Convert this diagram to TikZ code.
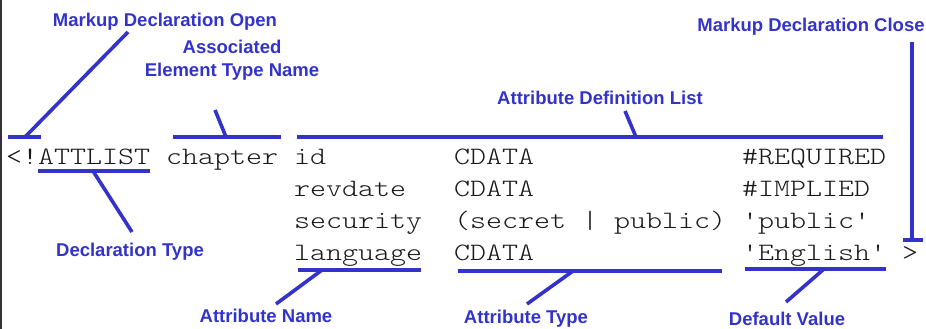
\documentclass[tikz,border=0pt]{standalone}
\usepackage{fontspec}
\setmainfont{Liberation Sans}
\setmonofont{lmmonolt10-regular.otf}[FakeStretch=1.219]
\definecolor{callout}{RGB}{51,51,204}
\begin{document}
\begin{tikzpicture}[x=1pt,y=-1pt,
  code/.style={font=\ttfamily\fontsize{25}{30}\selectfont, anchor=base west, inner sep=0pt, text=black!90},
  tag/.style={font=\bfseries\fontsize{18.5}{23}\selectfont, text=callout, inner sep=0pt, align=center, anchor=base},
  bar/.style={draw=callout, line width=3.6pt},
  lead/.style={draw=callout, line width=3.6pt}]
\useasboundingbox (0,0) rectangle (926,329);
% left rule
\draw[line width=2pt, black!80] (1,0) -- (1,329);

% code: one node per token, 16pt per character
\newcommand\tok[4]{\node[code] (#1) at ({6+16*#2},#3) {#4};}
\tok{mdo}{0}{164.5}{<!}
\tok{kw}{2}{164.5}{ATTLIST}
\tok{el}{10}{164.5}{chapter}
\tok{n1}{18}{164.5}{id}
\tok{t1}{28}{164.5}{CDATA}
\tok{d1}{46}{164.5}{\#REQUIRED}
\tok{n2}{18}{196}{revdate}
\tok{t2}{28}{196}{CDATA}
\tok{d2}{46}{196}{\#IMPLIED}
\tok{n3}{18}{228}{security}
\tok{t3}{28}{228}{(secret | public)}
\tok{d3}{46}{228}{'public'}
\tok{n4}{18}{260}{language}
\tok{t4}{28}{260}{CDATA}
\tok{d4}{46}{260}{'English'}
\tok{mdc}{56}{260}{>}

% labels (placed by baseline)
\node[tag] (lOpen)  at (165,27)  {Markup Declaration Open};
\node[tag] (lElem)  at (232,77)  {Associated\\Element Type Name};
\node[tag] (lList)  at (600,104) {Attribute Definition List};
\node[tag] (lClose) at (811,32)  {Markup Declaration Close};
\node[tag] (lType)  at (130,256) {Declaration Type};
\node[tag] (lName)  at (266,322) {Attribute Name};
\node[tag] (lAType) at (526,323) {Attribute Type};
\node[tag] (lDef)   at (787,325) {Default Value};

% bars over / under the code
\draw[bar] (8,137) -- (41,137);
\draw[bar] (173,137) -- (281,137);
\draw[bar] (297,137) -- (883,137);
\draw[bar] (912,42) -- (912,240);
\draw[bar] (903,240) -- (923,240);
\draw[bar] (38,171) -- (150,171);
\draw[bar] (298,270) -- (421,270);
\draw[bar] (458,271) -- (722,271);
\draw[bar] (745,269) -- (886,269);

% leader end points
\coordinate (pOpenT) at (128,32);   \coordinate (pOpenB) at (25,137);
\coordinate (pElemT) at (215,110);  \coordinate (pElemB) at (226,137);
\coordinate (pListT) at (625,111);  \coordinate (pListB) at (636,137);
\coordinate (pTypeA) at (93,171);   \coordinate (pTypeB) at (132,232);
\coordinate (pNameA) at (322,270);  \coordinate (pNameB) at (276,304);
\coordinate (pATypA) at (573,271);  \coordinate (pATypB) at (527,304);
\coordinate (pDefA)  at (824,269);  \coordinate (pDefB)  at (786,302);

% leaders
\draw[lead] (pOpenT) -- (pOpenB);
\draw[lead] (pElemT) -- (pElemB);
\draw[lead] (pListT) -- (pListB);
\draw[lead] (pTypeA) -- (pTypeB);
\draw[lead] (pNameA) -- (pNameB);
\draw[lead] (pATypA) -- (pATypB);
\draw[lead] (pDefA) -- (pDefB);
\end{tikzpicture}
\end{document}
